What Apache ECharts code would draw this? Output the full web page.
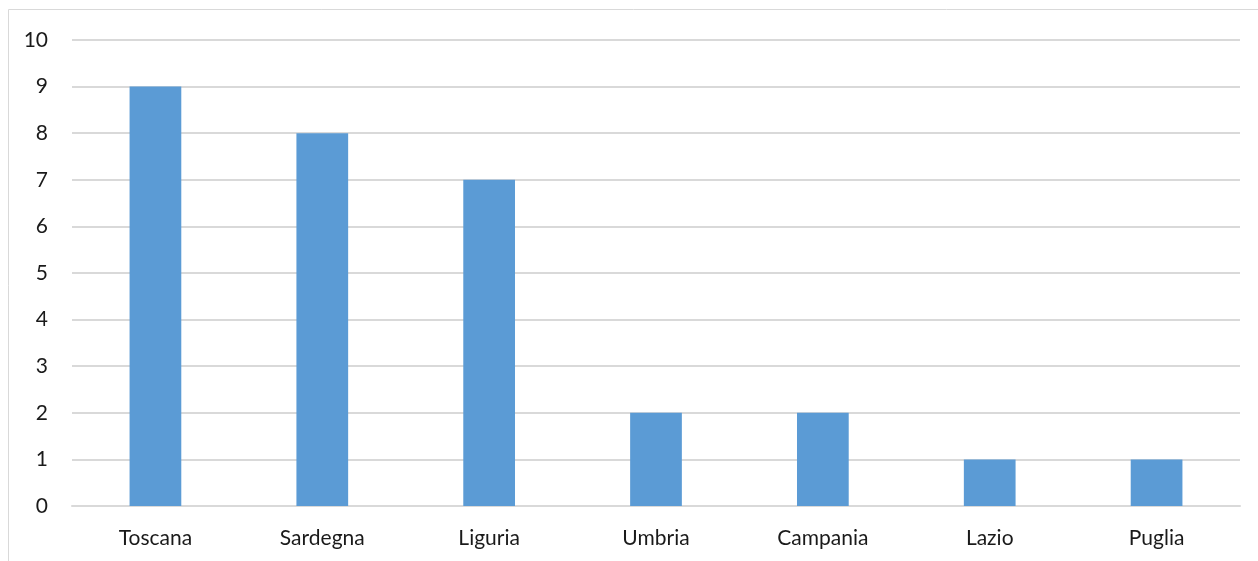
<!DOCTYPE html>
<html>
<head>
<meta charset="utf-8">
<script src="https://cdn.jsdelivr.net/npm/echarts@6/dist/echarts.min.js"></script>
<style>
  html, body { margin: 0; padding: 0; background: #fff; }
  #chart { width: 1258px; height: 561px; }
</style>
</head>
<body>
<div id="chart"></div>
<script>
// Regions and their counts
const categories = ['Toscana', 'Sardegna', 'Liguria', 'Umbria', 'Campania', 'Lazio', 'Puglia'];
const values = [9, 8, 7, 2, 2, 1, 1];
const yTicks = [0, 1, 2, 3, 4, 5, 6, 7, 8, 9, 10];

const chart = echarts.init(document.getElementById('chart'), null, { renderer: 'canvas' });
const font = 'Lato, "Open Sans", sans-serif';

chart.setOption({
  animation: false,
  graphic: [{
    type: 'rect',
    shape: { x: 8.5, y: 9.5, width: 1260, height: 570 },
    style: { fill: 'none', stroke: '#d9d9d9', lineWidth: 1 },
    silent: true
  }],
  grid: { left: 72, right: 18, top: 40, bottom: 55, containLabel: false },
  xAxis: {
    type: 'category',
    data: categories,
    axisLine: { show: true, lineStyle: { color: '#d9d9d9', width: 2 } },
    axisTick: { show: false },
    axisLabel: { color: '#1a1a1a', fontSize: 21, fontFamily: font, margin: 22 }
  },
  yAxis: {
    type: 'value',
    min: yTicks[0],
    max: yTicks[yTicks.length - 1],
    interval: 1,
    axisLine: { show: false },
    axisTick: { show: false },
    axisLabel: { color: '#1a1a1a', fontSize: 21, fontFamily: font, margin: 24 },
    splitLine: { lineStyle: { color: '#d9d9d9', width: 2 } }
  },
  series: [{
    type: 'bar',
    data: values,
    barWidth: '31%',
    itemStyle: { color: '#5b9bd5' }
  }]
});
</script>
</body>
</html>
